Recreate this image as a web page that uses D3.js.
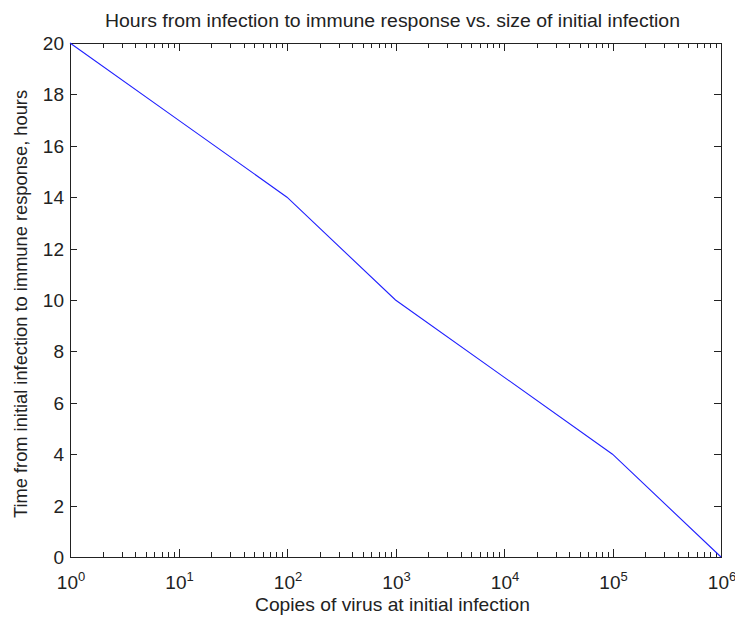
<!DOCTYPE html>
<html>
<head>
<meta charset="utf-8">
<script src="https://cdn.jsdelivr.net/npm/d3@7"></script>
<style>
  body { margin: 0; background: #fff; }
  text { font-family: "Liberation Sans", Arial, sans-serif; fill: #222; }
</style>
</head>
<body>
<div id="chart"></div>
<script>
// values
var copies = [1, 10, 100, 1000, 10000, 100000, 1000000];
var hours = [20, 17, 14, 10, 7, 4, 0];
var xTickExp = [0, 1, 2, 3, 4, 5, 6];
var yTicks = [0, 2, 4, 6, 8, 10, 12, 14, 16, 18, 20];

var width = 735, height = 617;
var margin = {top: 43, right: 14, bottom: 60, left: 70};

var svg = d3.select("#chart").append("svg")
    .attr("width", width)
    .attr("height", height);

var x = d3.scaleLog()
    .domain([1, 1e6])
    .range([margin.left, width - margin.right]);

var y = d3.scaleLinear()
    .domain([0, 20])
    .range([height - margin.bottom, margin.top]);

var x0 = x.range()[0], x1 = x.range()[1],
    y0 = y.range()[0], y1 = y.range()[1];

// minor ticks (2..9 of each decade)
var minor = [];
xTickExp.slice(0, -1).forEach(function(e) {
    for (var k = 2; k <= 9; k++) minor.push(k * Math.pow(10, e));
});

var ticks = svg.append("g").attr("class", "ticks")
    .attr("stroke", "#222").attr("stroke-width", 1)
    .attr("shape-rendering", "crispEdges");

// bottom + top ticks
[y0, y1].forEach(function(yy, j) {
    var dir = j === 0 ? -1 : 1;
    ticks.selectAll(null).data(minor).enter().append("line")
        .attr("x1", function(d) { return Math.round(x(d)) + 0.5; })
        .attr("x2", function(d) { return Math.round(x(d)) + 0.5; })
        .attr("y1", yy).attr("y2", yy + dir * 5);
    ticks.selectAll(null).data(xTickExp).enter().append("line")
        .attr("x1", function(d) { return Math.round(x(Math.pow(10, d))) + 0.5; })
        .attr("x2", function(d) { return Math.round(x(Math.pow(10, d))) + 0.5; })
        .attr("y1", yy).attr("y2", yy + dir * 8);
});

// left + right ticks
[x0, x1].forEach(function(xx, j) {
    var dir = j === 0 ? 1 : -1;
    ticks.selectAll(null).data(yTicks).enter().append("line")
        .attr("y1", function(d) { return Math.round(y(d)) + 0.5; })
        .attr("y2", function(d) { return Math.round(y(d)) + 0.5; })
        .attr("x1", xx).attr("x2", xx + dir * 7);
});

// box
svg.append("rect")
    .attr("x", x0 + 0.5).attr("y", y1 + 0.5)
    .attr("width", x1 - x0).attr("height", y0 - y1)
    .attr("fill", "none").attr("stroke", "#222")
    .attr("shape-rendering", "crispEdges");

// line
var line = d3.line()
    .x(function(d) { return x(d[0]); })
    .y(function(d) { return y(d[1]); });

svg.append("path")
    .datum(d3.zip(copies, hours))
    .attr("d", line)
    .attr("fill", "none")
    .attr("stroke", "#2020ff")
    .attr("stroke-width", 1.1);

// y tick labels
svg.append("g").selectAll("text").data(yTicks).enter().append("text")
    .attr("x", x0 - 6)
    .attr("y", function(d) { return y(d) + 7; })
    .attr("text-anchor", "end")
    .attr("font-size", 19)
    .text(function(d) { return d; });

// x tick labels 10^n
var xl = svg.append("g").selectAll("text").data(xTickExp).enter().append("text")
    .attr("x", function(d) { return x(Math.pow(10, d)) + 1; })
    .attr("y", y0 + 32)
    .attr("text-anchor", "middle")
    .attr("font-size", 19);
xl.append("tspan").text("10");
xl.append("tspan")
    .attr("dy", -8)
    .attr("font-size", 13)
    .text(function(d) { return d; });

// title
svg.append("text")
    .attr("x", (x0 + x1) / 2 - 3)
    .attr("y", 27)
    .attr("text-anchor", "middle")
    .attr("font-size", 18)
    .attr("textLength", 575)
    .attr("lengthAdjust", "spacingAndGlyphs")
    .text("Hours from infection to immune response vs. size of initial infection");

// x label
svg.append("text")
    .attr("x", 392.5)
    .attr("y", 611)
    .attr("text-anchor", "middle")
    .attr("font-size", 19)
    .attr("textLength", 275)
    .attr("lengthAdjust", "spacingAndGlyphs")
    .text("Copies of virus at initial infection");

// y label
svg.append("text")
    .attr("transform", "translate(27," + ((y0 + y1) / 2 + 4) + ") rotate(-90)")
    .attr("text-anchor", "middle")
    .attr("font-size", 18.3)
    .text("Time from initial infection to immune response, hours");
</script>
</body>
</html>
